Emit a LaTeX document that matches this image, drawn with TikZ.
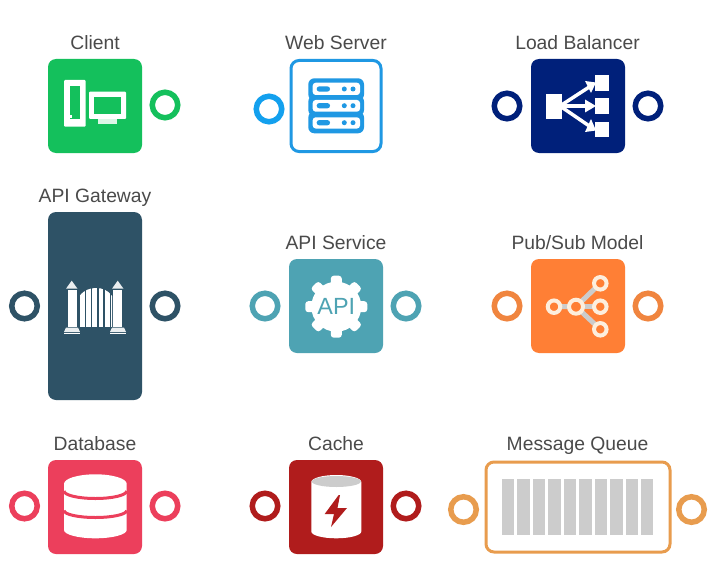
\documentclass[tikz,border=0pt]{standalone}
\usepackage{fontspec}
\setmainfont{Liberation Sans}
\definecolor{cgreen}{HTML}{14C05C}
\definecolor{cblue}{HTML}{1F98E3}
\definecolor{cbluering}{HTML}{13A0EE}
\definecolor{cnavy}{HTML}{00207A}
\definecolor{cslate}{HTML}{2E5266}
\definecolor{cteal}{HTML}{4EA3B3}
\definecolor{corange}{HTML}{FF7F35}
\definecolor{corangering}{HTML}{F0853F}
\definecolor{cpink}{HTML}{EC3F5C}
\definecolor{cred}{HTML}{B01C1C}
\definecolor{cmq}{HTML}{E89C4E}
\definecolor{cgrey}{HTML}{CCCCCC}
\definecolor{ctext}{HTML}{4A4A4A}
\definecolor{ccream}{HTML}{FDEEDD}
\tikzset{
  box/.style={rectangle,rounded corners=8pt,minimum width=94pt,minimum height=94pt,inner sep=0pt,outer sep=0pt},
  ring/.style={circle,draw=#1,line width=5.5pt,fill=white,minimum size=25.5pt,inner sep=0pt},
  lbl/.style={text=ctext,font=\fontsize{19.3}{21}\selectfont,inner sep=0pt,anchor=base},
  psnode/.style={circle,draw=ccream,line width=4pt,fill=corange,minimum size=#1,inner sep=0pt},
  psline/.style={draw=cgrey,line width=5pt}
}
\begin{document}
\begin{tikzpicture}[x=1pt,y=-1pt]
\useasboundingbox[fill=white] (0,0) rectangle (722,583);
% labels
\node[lbl] (lclient) at (95,49.5) {Client};
\node[lbl] (lweb) at (336,49.5) {Web Server};
\node[lbl] (llb) at (577.5,49.5) {Load Balancer};
\node[lbl] (lgw) at (95,202.5) {API Gateway};
\node[lbl] (lapi) at (336,249.5) {API Service};
\node[lbl] (lps) at (577.5,249.5) {Pub/Sub Model};
\node[lbl] (ldb) at (95,450.5) {Database};
\node[lbl] (lcache) at (336,450.5) {Cache};
\node[lbl] (lmq) at (577.5,450.5) {Message Queue};
% boxes
\node[box,fill=cgreen] (client) at (95,106) {};
\node[box,draw=cblue,line width=3pt,minimum width=90pt,minimum height=91pt,fill=white] (web) at (336,106) {};
\node[box,fill=cnavy] (lb) at (578,106) {};
\node[box,fill=cslate,rounded corners=8pt,minimum height=188pt] (gw) at (95,306) {};
\node[box,fill=cteal] (api) at (336,306) {};
\node[box,fill=corange] (ps) at (578,306) {};
\node[box,fill=cpink] (db) at (95,507) {};
\node[box,fill=cred] (cache) at (336,507) {};
\node[box,draw=cmq,line width=3pt,fill=white,minimum width=184pt,minimum height=90pt] (mq) at (578,507) {};
% rings
\node[ring=cgreen] (r1) at (165,105) {};
\node[ring=cbluering] (r2) at (269,109) {};
\node[ring=cnavy] (r3) at (507,106) {};
\node[ring=cnavy] (r4) at (648,106) {};
\node[ring=cslate] (r5) at (24.5,306) {};
\node[ring=cslate] (r6) at (165,306) {};
\node[ring=cteal] (r7) at (265,306) {};
\node[ring=cteal] (r8) at (406,306) {};
\node[ring=corangering] (r9) at (507,306) {};
\node[ring=corangering] (r10) at (648,306) {};
\node[ring=cpink] (r11) at (24.5,506) {};
\node[ring=cpink] (r12) at (165,506) {};
\node[ring=cred] (r13) at (265,506) {};
\node[ring=cred] (r14) at (406,506) {};
\node[ring=cmq] (r15) at (463.5,509.5) {};
\node[ring=cmq] (r16) at (691.5,509.5) {};
% client icon
\fill[white,rounded corners=1pt] (64,80) rectangle (85.7,126.7);
\fill[cgreen] (70,86) rectangle (80,119);
\fill[white] (68.5,115) rectangle (71.5,118.5);
\fill[white,rounded corners=1pt] (89,91.7) rectangle (126,119);
\fill[cgreen] (94,97.3) rectangle (120.7,114.3);
\fill[white!85!cgreen] (98.3,119) rectangle (116.7,124.3);
% web icon
\foreach \a/\b in {78.3/100.5,95.5/116,111.5/133.3}
  \fill[cblue,rounded corners=6pt] (308.3,\a) rectangle (364,\b);
\foreach \a/\b/\c in {82.7/95/89,100/111.7/105.7,117.3/128.5/122.7}{
  \fill[white,rounded corners=3pt] (312.7,\a) rectangle (360,\b);
  \fill[cblue,rounded corners=2.5pt] (316.7,\c-2.6) rectangle (330,\c+2.6);
  \fill[cblue] (344.3,\c) circle (2.5);
  \fill[cblue] (353,\c) circle (2.5);
}
% load balancer icon
\fill[white] (545.7,94) rectangle (562.3,119);
\fill[white] (595,75) rectangle (609,90.7);
\fill[white] (595,98.3) rectangle (609,114);
\fill[white] (595,121.7) rectangle (609,137.3);
\draw[white,line width=3.5pt] (560,106) -- (590,86.5);
\draw[white,line width=3.5pt] (560,106) -- (590,106);
\draw[white,line width=3.5pt] (560,106) -- (590,126.5);
\fill[white] (596,82.5) -- (585,81) -- (591,93) -- cycle;
\fill[white] (596,106) -- (585,99.5) -- (585,112.5) -- cycle;
\fill[white] (596,130.5) -- (591,119) -- (585,132) -- cycle;
% gateway icon
\fill[white] (68.3,290) rectangle (77.3,327);
\fill[white] (113.3,290) rectangle (122.3,327);
\fill[white!90!cslate] (71.7,280.7) -- (66,288.7) -- (77.5,288.7) -- cycle;
\fill[white!90!cslate] (117.7,280.7) -- (112,288.7) -- (123.5,288.7) -- cycle;
\fill[white!90!cslate] (66,327.5) -- (78,327.5) -- (80,332) -- (64,332) -- cycle;
\fill[white!90!cslate] (112,327.5) -- (124,327.5) -- (126,332) -- (110,332) -- cycle;
\fill[white] (64,333) rectangle (80,334);
\fill[white] (110,333) rectangle (126,334);
\begin{scope}
\clip (79.5,327) -- (79.5,296) .. controls (84,290) and (90,288) .. (96,288) .. controls (102,288) and (108,290) .. (112,296) -- (112,327) -- cycle;
\foreach \x in {80,86.2,92.4,98.6,104.8,111}
  \fill[white] (\x,285) rectangle (\x+4.8,327);
\end{scope}
% api icon
\begin{scope}[shift={(336.3,306.7)}]
\foreach \r in {0,45,...,315}
  \fill[white,rotate=\r,rounded corners=3pt] (-5.5,-20) rectangle (5.5,-31);
\fill[white] (0,0) circle (25);
\end{scope}
\node[text=cteal,font=\fontsize{23.4}{25}\selectfont,inner sep=0pt] (apitxt) at (336.3,306.7) {API};
% pub sub icon
\coordinate (pc) at (576,306.7);
\coordinate (pl) at (554,306.7);
\coordinate (pt) at (600.3,283.3);
\coordinate (pm) at (600.3,306.7);
\coordinate (pb) at (600.3,329.3);
\draw[psline] (pl) -- (pc) -- (pt);
\draw[psline] (pc) -- (pm);
\draw[psline] (pc) -- (pb);
\node[psnode=12.5pt] (psl) at (pl) {};
\node[psnode=14pt] (psc) at (pc) {};
\node[psnode=12.5pt] (pst) at (pt) {};
\node[psnode=12.5pt] (psm) at (pm) {};
\node[psnode=12.5pt] (psb) at (pb) {};
% database icon
\fill[white] (64,483.8) arc[start angle=180,end angle=360,x radius=31.35,y radius=9.5] -- (126.7,530) arc[start angle=0,end angle=180,x radius=31.35,y radius=8.3] -- cycle;
\draw[cpink,line width=3pt] (64,491) arc[start angle=180,end angle=0,x radius=31.35,y radius=7.5];
\draw[cpink,line width=3pt] (64,510.5) arc[start angle=180,end angle=0,x radius=31.35,y radius=7];
% cache icon
\fill[white] (311.3,482) arc[start angle=180,end angle=360,x radius=25,y radius=7] -- (361.3,531.5) arc[start angle=0,end angle=180,x radius=25,y radius=6.8] -- cycle;
\fill[cgrey] (336.3,481.5) ellipse (24.5 and 5.5);
\fill[cred] (338.7,495) -- (324.7,514) -- (334,514) -- (331,527) -- (347,508) -- (337.5,508) -- (340,495) -- cycle;
% queue bars
\foreach \i in {0,...,9}
  \fill[cgrey] ({502+15.45*\i},479) rectangle ({514.4+15.45*\i},535);
\end{tikzpicture}
\end{document}
